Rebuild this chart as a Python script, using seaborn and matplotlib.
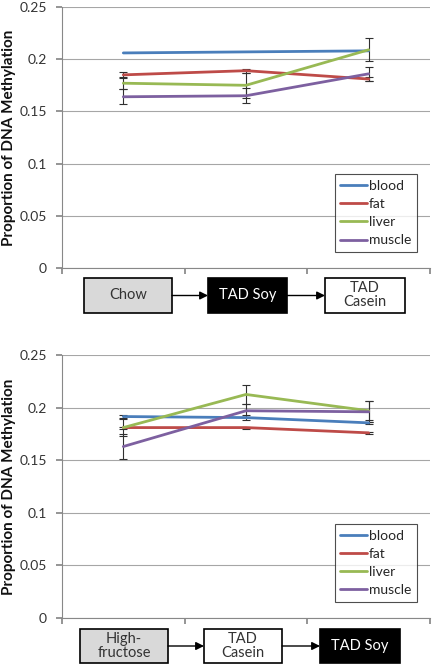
import matplotlib
matplotlib.use("Agg")
import matplotlib.pyplot as plt
import seaborn as sns
import pandas as pd
from matplotlib.patches import Rectangle, FancyArrowPatch

sns.set_theme(style="white")
plt.rcParams['font.family'] = ['Lato', 'DejaVu Sans']

tissues = ["blood", "fat", "liver", "muscle"]
colors = ["#4A7EBB", "#BE4B48", "#98B954", "#7D60A0"]

# Top panel: Chow -> TAD Soy -> TAD Casein
top_diets = ["Chow", "TAD Soy", "TAD\nCasein"]
top_blood = [0.206, 0.207, 0.208]
top_fat = [0.185, 0.189, 0.181]
top_liver = [0.177, 0.175, 0.209]
top_muscle = [0.164, 0.165, 0.186]
top_blood_err = [0.0, 0.0, 0.0]
top_fat_err = [0.003, 0.002, 0.002]
top_liver_err = [0.006, 0.012, 0.011]
top_muscle_err = [0.007, 0.007, 0.007]

# Bottom panel: High-fructose -> TAD Casein -> TAD Soy
bot_diets = ["High-\nfructose", "TAD\nCasein", "TAD Soy"]
bot_blood = [0.1915, 0.1905, 0.1855]
bot_fat = [0.181, 0.181, 0.176]
bot_liver = [0.181, 0.2125, 0.197]
bot_muscle = [0.163, 0.197, 0.196]
bot_blood_err = [0.001, 0.002, 0.001]
bot_fat_err = [0.001, 0.001, 0.001]
bot_liver_err = [0.008, 0.009, 0.009]
bot_muscle_err = [0.012, 0.006, 0.010]

box_fills_top = ["#D9D9D9", "#000000", "#FFFFFF"]
box_text_top = ["#333333", "#FFFFFF", "#333333"]
box_fills_bot = ["#D9D9D9", "#FFFFFF", "#000000"]
box_text_bot = ["#333333", "#333333", "#FFFFFF"]

W, H = 435, 667
fig = plt.figure(figsize=(W / 100, H / 100), dpi=100)


def px_axes(x0, y0, x1, y1):
    return fig.add_axes([x0 / W, 1 - y1 / H, (x1 - x0) / W, (y1 - y0) / H])


def draw_panel(ax, vals, errs):
    rows = []
    for t, v in zip(tissues, vals):
        for i, val in enumerate(v):
            rows.append({"x": i, "value": val, "tissue": t})
    df = pd.DataFrame(rows)
    sns.lineplot(data=df, x="x", y="value", hue="tissue", palette=colors,
                 hue_order=tissues, ax=ax, linewidth=2.0, legend=True)
    for v, e in zip(vals, errs):
        if max(e) > 0:
            ax.errorbar(range(3), v, yerr=e, fmt="none", ecolor="#303030",
                        elinewidth=0.8, capsize=2.8, capthick=0.8, zorder=1)
    ax.set_xlim(-0.5, 2.5)
    ax.set_ylim(0, 0.25)
    ax.set_yticks([0, 0.05, 0.1, 0.15, 0.2, 0.25])
    ax.set_yticklabels(["0", "0.05", "0.1", "0.15", "0.2", "0.25"])
    ax.yaxis.grid(True, color="#A6A6A6", linewidth=0.8)
    ax.set_axisbelow(True)
    ax.set_xticks([-0.5, 0.5, 1.5, 2.5])
    ax.set_xticklabels([])
    ax.tick_params(axis="x", length=4, color="#888888", direction="out", bottom=True)
    ax.tick_params(axis="y", length=4, color="#888888", direction="out", left=True,
                   labelsize=10, labelcolor="#333333", pad=7)
    for s in ["top", "right"]:
        ax.spines[s].set_visible(False)
    for s in ["left", "bottom"]:
        ax.spines[s].set_color("#888888")
        ax.spines[s].set_linewidth(0.8)
    ax.set_xlabel("")
    ax.set_ylabel("Proportion of DNA Methylation", fontsize=11, fontweight="bold",
                  color="#111111", labelpad=2)
    leg = ax.legend(loc="lower right", bbox_to_anchor=(0.983, 0.035), frameon=True,
                    fancybox=False, edgecolor="#222222", fontsize=10,
                    handlelength=1.9, handletextpad=0.15, labelspacing=0.45,
                    borderpad=0.4)
    leg.get_frame().set_linewidth(0.8)
    for line in leg.get_lines():
        line.set_linewidth(2.0)


def draw_boxes(xs, y0, y1, labels, fills, tcols):
    for i, ((x0, x1), lab, fc, tc) in enumerate(zip(xs, labels, fills, tcols)):
        fig.patches.append(Rectangle((x0 / W, 1 - y1 / H), (x1 - x0) / W, (y1 - y0) / H,
                                     transform=fig.transFigure, facecolor=fc,
                                     edgecolor="#000000", linewidth=1.2))
        fig.text((x0 + x1) / 2 / W, 1 - (y0 + y1) / 2 / H, lab, ha="center",
                 va="center", color=tc, fontsize=10.5, linespacing=1.0)
        if i < len(xs) - 1:
            nx0 = xs[i + 1][0]
            ym = 1 - (y0 + y1) / 2 / H
            fig.patches.append(FancyArrowPatch((x1 / W, ym), (nx0 / W, ym),
                                               transform=fig.transFigure,
                                               arrowstyle="-|>", mutation_scale=12,
                                               color="#000000", linewidth=1.0,
                                               shrinkA=0, shrinkB=0))


ax1 = px_axes(62, 7, 430, 268)
draw_panel(ax1, [top_blood, top_fat, top_liver, top_muscle],
           [top_blood_err, top_fat_err, top_liver_err, top_muscle_err])
ax2 = px_axes(62, 355, 430, 618)
draw_panel(ax2, [bot_blood, bot_fat, bot_liver, bot_muscle],
           [bot_blood_err, bot_fat_err, bot_liver_err, bot_muscle_err])

draw_boxes([(84, 172), (208, 287), (325, 405)], 278, 313, top_diets,
           box_fills_top, box_text_top)
draw_boxes([(80, 168), (204, 282), (320, 400)], 629, 663, bot_diets,
           box_fills_bot, box_text_bot)

fig.savefig("out.png", dpi=100)
